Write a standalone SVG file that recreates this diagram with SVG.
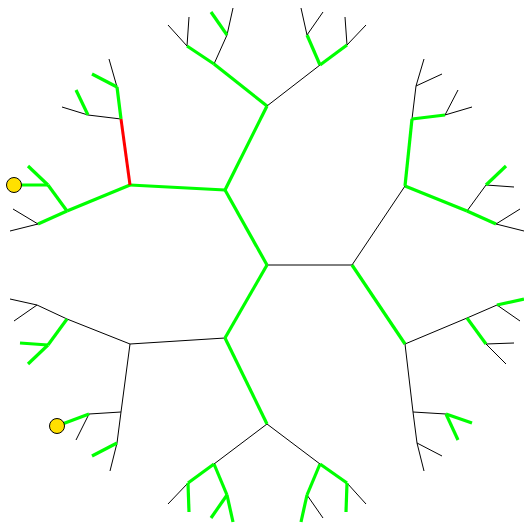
<svg xmlns="http://www.w3.org/2000/svg" width="524" height="523" viewBox="0 0 524 523">
<style>
.b{stroke:#000;stroke-width:1;fill:none}
.g{stroke:#00ff00;stroke-width:3.2;fill:none}
.r{stroke:#ff0000;stroke-width:3;fill:none}
.leaf{fill:#ffe000;stroke:#000;stroke-width:1}
</style>
<rect width="524" height="523" fill="#fff"/>
<g id="connectors">
<g id="thin-edges">
<line class="b" x1="267" y1="265" x2="352" y2="265"/>
<line class="b" x1="352" y1="265" x2="405" y2="186"/>
<line class="b" x1="225" y1="338" x2="130" y2="344"/>
<line class="b" x1="117" y1="87" x2="109" y2="59"/>
<line class="b" x1="121" y1="119" x2="88" y2="115"/>
<line class="b" x1="88" y1="115" x2="62" y2="107"/>
<line class="b" x1="38" y1="224" x2="10" y2="231"/>
<line class="b" x1="38" y1="224" x2="13" y2="209"/>
<line class="b" x1="187" y1="46" x2="168" y2="25"/>
<line class="b" x1="187" y1="46" x2="189" y2="17"/>
<line class="b" x1="214" y1="64" x2="227" y2="35"/>
<line class="b" x1="227" y1="35" x2="233" y2="8"/>
<line class="b" x1="267" y1="106" x2="320" y2="65"/>
<line class="b" x1="347" y1="45" x2="345" y2="17"/>
<line class="b" x1="347" y1="45" x2="366" y2="25"/>
<line class="b" x1="307" y1="35" x2="301" y2="8"/>
<line class="b" x1="307" y1="35" x2="323" y2="12"/>
<line class="b" x1="445" y1="115" x2="472" y2="107"/>
<line class="b" x1="445" y1="115" x2="458" y2="90"/>
<line class="b" x1="412" y1="119" x2="416" y2="86"/>
<line class="b" x1="416" y1="86" x2="424" y2="59"/>
<line class="b" x1="416" y1="86" x2="442" y2="74"/>
<line class="b" x1="496" y1="224" x2="524" y2="231"/>
<line class="b" x1="496" y1="224" x2="520" y2="209"/>
<line class="b" x1="467" y1="211" x2="486" y2="185"/>
<line class="b" x1="486" y1="185" x2="514" y2="187"/>
<line class="b" x1="130" y1="344" x2="67" y2="319"/>
<line class="b" x1="67" y1="319" x2="37" y2="305"/>
<line class="b" x1="37" y1="305" x2="10" y2="299"/>
<line class="b" x1="37" y1="305" x2="14" y2="321"/>
<line class="b" x1="130" y1="344" x2="121" y2="412"/>
<line class="b" x1="121" y1="412" x2="89" y2="414"/>
<line class="b" x1="89" y1="414" x2="76" y2="440"/>
<line class="b" x1="121" y1="412" x2="117" y2="443"/>
<line class="b" x1="117" y1="443" x2="110" y2="471"/>
<line class="b" x1="267" y1="424" x2="214" y2="464"/>
<line class="b" x1="188" y1="483" x2="168" y2="504"/>
<line class="b" x1="267" y1="424" x2="320" y2="464"/>
<line class="b" x1="307" y1="495" x2="323" y2="518"/>
<line class="b" x1="347" y1="483" x2="366" y2="504"/>
<line class="b" x1="405" y1="344" x2="467" y2="318"/>
<line class="b" x1="467" y1="318" x2="497" y2="305"/>
<line class="b" x1="497" y1="305" x2="520" y2="321"/>
<line class="b" x1="486" y1="344" x2="514" y2="343"/>
<line class="b" x1="486" y1="344" x2="506" y2="364"/>
<line class="b" x1="405" y1="344" x2="413" y2="412"/>
<line class="b" x1="413" y1="412" x2="446" y2="414"/>
<line class="b" x1="413" y1="412" x2="417" y2="443"/>
<line class="b" x1="417" y1="443" x2="442" y2="456"/>
<line class="b" x1="417" y1="443" x2="424" y2="471"/>
</g>
<g id="highlighted-edges">
<line class="g" x1="267" y1="265" x2="225" y2="190"/>
<line class="g" x1="267" y1="265" x2="225" y2="338"/>
<line class="g" x1="352" y1="265" x2="405" y2="344"/>
<line class="g" x1="225" y1="190" x2="130" y2="185"/>
<line class="g" x1="225" y1="190" x2="267" y2="106"/>
<line class="g" x1="225" y1="338" x2="267" y2="424"/>
<line class="g" x1="121" y1="119" x2="117" y2="87"/>
<line class="g" x1="117" y1="87" x2="92" y2="74"/>
<line class="g" x1="88" y1="115" x2="76" y2="90"/>
<line class="g" x1="130" y1="185" x2="67" y2="211"/>
<line class="g" x1="67" y1="211" x2="38" y2="224"/>
<line class="g" x1="67" y1="211" x2="48" y2="185"/>
<line class="g" x1="48" y1="185" x2="14" y2="185"/>
<line class="g" x1="48" y1="185" x2="28" y2="166"/>
<line class="g" x1="267" y1="106" x2="214" y2="64"/>
<line class="g" x1="214" y1="64" x2="187" y2="46"/>
<line class="g" x1="227" y1="35" x2="211" y2="12"/>
<line class="g" x1="320" y1="65" x2="347" y2="45"/>
<line class="g" x1="320" y1="65" x2="307" y2="35"/>
<line class="g" x1="405" y1="186" x2="412" y2="119"/>
<line class="g" x1="412" y1="119" x2="445" y2="115"/>
<line class="g" x1="405" y1="186" x2="467" y2="211"/>
<line class="g" x1="467" y1="211" x2="496" y2="224"/>
<line class="g" x1="486" y1="185" x2="506" y2="166"/>
<line class="g" x1="67" y1="319" x2="48" y2="345"/>
<line class="g" x1="48" y1="345" x2="20" y2="343"/>
<line class="g" x1="48" y1="345" x2="28" y2="364"/>
<line class="g" x1="89" y1="414" x2="57" y2="426"/>
<line class="g" x1="117" y1="443" x2="92" y2="456"/>
<line class="g" x1="214" y1="464" x2="188" y2="483"/>
<line class="g" x1="188" y1="483" x2="189" y2="512"/>
<line class="g" x1="214" y1="464" x2="227" y2="495"/>
<line class="g" x1="227" y1="495" x2="211" y2="518"/>
<line class="g" x1="227" y1="495" x2="233" y2="522"/>
<line class="g" x1="320" y1="464" x2="307" y2="495"/>
<line class="g" x1="307" y1="495" x2="301" y2="522"/>
<line class="g" x1="320" y1="464" x2="347" y2="483"/>
<line class="g" x1="347" y1="483" x2="346" y2="512"/>
<line class="g" x1="497" y1="305" x2="524" y2="299"/>
<line class="g" x1="467" y1="318" x2="486" y2="344"/>
<line class="g" x1="446" y1="414" x2="472" y2="423"/>
<line class="g" x1="446" y1="414" x2="458" y2="440"/>
</g>
<g id="selected-edge">
<line class="r" x1="130" y1="185" x2="121" y2="119"/>
</g>
</g>
<g id="node-leaf-1"><circle class="leaf" cx="14" cy="185" r="7.5"/></g>
<g id="node-leaf-2"><circle class="leaf" cx="57" cy="426" r="7.5"/></g>
</svg>
